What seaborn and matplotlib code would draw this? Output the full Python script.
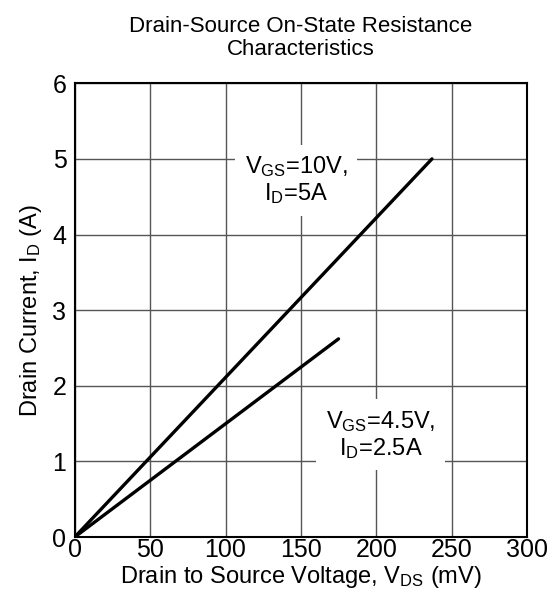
import numpy as np
import pandas as pd
import matplotlib
matplotlib.use("Agg")
import matplotlib.pyplot as plt
import seaborn as sns

# curves
vds_10v = [0, 237]
id_10v = [0, 5.0]
vds_45v = [0, 175]
id_45v = [0, 2.62]
xticks = [0, 50, 100, 150, 200, 250, 300]
yticks = [0, 1, 2, 3, 4, 5, 6]

df = pd.concat([
    pd.DataFrame({"vds": vds_10v, "id": id_10v, "curve": "10V"}),
    pd.DataFrame({"vds": vds_45v, "id": id_45v, "curve": "4.5V"}),
])

sns.set_style("white")
plt.rcParams['font.family'] = ['Liberation Sans', 'DejaVu Sans']
plt.rcParams['mathtext.fontset'] = 'custom'
plt.rcParams['mathtext.rm'] = 'Liberation Sans'
plt.rcParams['mathtext.it'] = 'Liberation Sans'
plt.rcParams['text.color'] = 'black'
plt.rcParams['axes.labelcolor'] = 'black'
plt.rcParams['xtick.color'] = 'black'
plt.rcParams['ytick.color'] = 'black'

fig = plt.figure(figsize=(5.5, 5.99), dpi=100)
ax = fig.add_axes([0.136, 0.1035, 0.822, 0.7575])

sns.lineplot(data=df, x="vds", y="id", units="curve", estimator=None,
             color="black", lw=2.4, ax=ax, legend=False)

ax.set_xlim(0, 300)
ax.set_ylim(0, 6)
ax.set_xticks(xticks)
ax.set_yticks(yticks)
ax.grid(True, color="#555555", lw=1)
ax.set_axisbelow(True)
for s in ax.spines.values():
    s.set_color("black")
    s.set_linewidth(1.5)
ax.tick_params(axis="y", labelsize=18, length=0, pad=6)
ax.tick_params(axis="x", labelsize=18, length=0, pad=1)

ax.set_xlabel(r"Drain to Source Voltage, V$_{\mathrm{DS}}$ (mV)", fontsize=17, labelpad=1)
ax.set_ylabel(r"Drain Current, I$_{\mathrm{D}}$ (A)", fontsize=17, labelpad=6)
ax.set_title("Drain-Source On-State Resistance\nCharacteristics", fontsize=16,
             pad=20, linespacing=1.15, color="black")

box = dict(facecolor="white", edgecolor="none", pad=7)
ax.text(147, 4.72, "V$_{\\mathrm{GS}}$=10V,\nI$_{\\mathrm{D}}$=5A", fontsize=17,
        ha="center", va="center", bbox=box, linespacing=1.1)
ax.text(203, 1.35, "V$_{\\mathrm{GS}}$=4.5V,\nI$_{\\mathrm{D}}$=2.5A", fontsize=17,
        ha="center", va="center", bbox=box, linespacing=1.1)

fig.savefig("out.png", dpi=100)
